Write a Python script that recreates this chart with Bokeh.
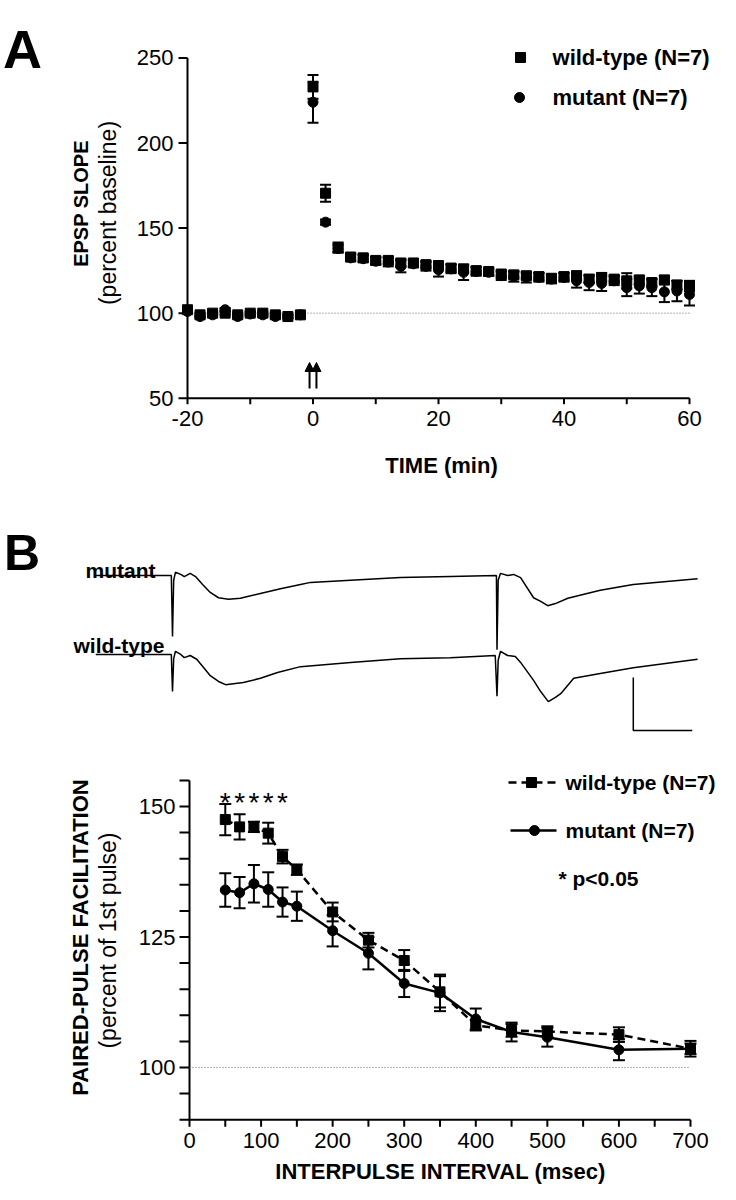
import math
from bokeh.plotting import figure
from bokeh.models import (ColumnDataSource, Whisker, TeeHead, Label, Arrow,
                          NormalHead, Range1d)
from bokeh.embed import file_html
from bokeh.resources import INLINE
from bokeh.core.properties import value

FONT = "Liberation Sans"

# ---------------- Panel A data (LTP time course) ----------------
time_min = [-20, -18, -16, -14, -12, -10, -8, -6, -4, -2,
            0, 2, 4, 6, 8, 10, 12, 14, 16, 18, 20, 22, 24, 26, 28, 30,
            32, 34, 36, 38, 40, 42, 44, 46, 48, 50, 52, 54, 56, 58, 60]
wt_slope = [102, 99, 100, 100, 99, 100, 100, 99, 98, 99,
            233, 170.5, 138.5, 133, 132.5, 131, 131, 129.5, 129.5, 128.5,
            128, 126.5, 126, 125, 124.5, 123, 122.5, 122, 121.5, 120.5,
            121.5, 122, 120, 121, 120, 119, 119.5, 118, 119.5, 116.5, 116]
wt_slope_err = [1, 1, 1, 1, 1, 1, 1, 1, 1, 1,
                7, 5, 3, 2, 2, 2, 2, 2, 2, 2,
                2, 2, 2, 2, 2, 2, 2, 2, 2, 2,
                2, 2.5, 2, 2.5, 2, 4.5, 2.5, 2, 2.5, 2.5, 3]
mut_slope = [101, 98, 99, 102, 98, 99.5, 99, 98, 98, 99,
             224, 153.5, 138, 132.5, 132, 130.5, 130, 127.5, 129, 127.5,
             125.5, 126, 124, 124.5, 124, 122, 121.5, 121, 121, 120,
             121, 119, 118, 117.5, 119, 115, 116, 115, 112.5, 113, 111]
mut_slope_err = [1, 1, 1, 1, 1, 1, 1, 1, 1, 1,
                 12, 1.5, 2, 2, 2, 2, 2.5, 3.5, 2, 2.5,
                 4, 2.5, 4.5, 2.5, 2, 2.5, 3, 3, 2.5, 2.5,
                 2.5, 4, 4.5, 4.5, 2.5, 5, 4.5, 5, 6, 6, 6.5]
a_xticks = [-20, 0, 20, 40, 60]
a_xminor = [-20, -10, 0, 10, 20, 30, 40, 50, 60]
a_yticks = [50, 100, 150, 200, 250]
tetanus_min = [-0.55, 0.55]

# ---------------- Panel B traces (ms, mV) ----------------
mut_trace_t = [-13.0, -0.2, 0.0, 0.2, 0.5, 1.4, 2.0, 3.0, 3.9, 5.1, 6.4, 7.8,
               9.5, 11.5, 14.9, 18.3, 21.7, 23.4, 30.2, 38.6, 47.1, 54.9,
               55.0, 55.2, 55.6, 56.8, 57.8, 59.0, 61.2, 62.4, 63.6, 64.9,
               67.0, 72.5, 78.1, 89.0]
mut_trace_v = [0.00, 0.00, -1.15, -0.09, 0.06, 0.02, -0.02, 0.04, -0.02, -0.17,
               -0.32, -0.42, -0.45, -0.43, -0.34, -0.25, -0.17, -0.13, -0.09,
               -0.04, -0.02, 0.00, -1.40, -0.09, 0.04, 0.00, 0.02, -0.04,
               -0.42, -0.49, -0.57, -0.53, -0.43, -0.28, -0.17, -0.06]
wt_trace_t = [-13.0, -0.2, 0.0, 0.2, 0.5, 1.4, 2.0, 3.0, 4.1, 5.3, 6.4, 7.8,
              9.0, 12.0, 14.9, 17.8, 21.7, 30.2, 38.6, 47.1, 54.7, 55.0,
              55.2, 55.6, 56.8, 58.1, 59.0, 61.2, 62.4, 63.7, 64.9, 65.8,
              68.0, 72.5, 78.1, 89.0]
wt_trace_v = [0.00, 0.00, -0.70, -0.08, 0.06, 0.00, -0.06, -0.02, -0.09, -0.25,
              -0.40, -0.51, -0.57, -0.53, -0.45, -0.34, -0.23, -0.15, -0.08,
              -0.06, -0.02, -0.79, -0.11, 0.06, -0.02, -0.04, -0.15, -0.49,
              -0.70, -0.89, -0.81, -0.74, -0.45, -0.36, -0.25, -0.09]
WT_TRACE_OFFSET = -1.49     # vertical display offset of wild-type trace (mV)
SCALE_MS, SCALE_MV = 10, 1  # scale bar
SCALE_T0, SCALE_V0 = 78.1, -2.925

# ---------------- Panel B PPF data ----------------
ipi_ms = [50, 70, 90, 110, 130, 150, 200, 250, 300, 350, 400, 450, 500, 600, 700]
ppf_wt = [147.5, 146.1, 146.1, 144.9, 140.4, 137.9, 129.8, 124.4, 120.5,
          114.5, 108.1, 107.1, 106.9, 106.3, 103.6]
ppf_wt_err = [3, 2.4, 1, 2, 1.3, 1, 1.8, 1.4, 2, 3, 1, 1.2, 1, 1.4, 1.5]
ppf_mut = [134.0, 133.5, 135.2, 134.1, 131.7, 130.9, 126.2, 121.9, 116.1,
           114.3, 109.3, 106.8, 105.8, 103.4, 103.6]
ppf_mut_err = [3.2, 3, 3.6, 3.3, 2.8, 2.8, 3, 3.1, 2.6, 3.5, 2, 1.8, 1.8, 2, 1]
significant_ipi = [50, 70, 90, 110, 130]
b_xticks = [0, 100, 200, 300, 400, 500, 600, 700]
b_xminor = [0, 50, 100, 150, 200, 250, 300, 350, 400, 450, 500, 550, 600, 650, 700]
b_yticks = [100, 125, 150]
b_yminor = [90, 95, 100, 105, 110, 115, 120, 125, 130, 135, 140, 145, 150, 155]

# ---------------- one canvas, three coordinate systems ----------------
p = figure(width=720, height=1184,
           x_range=Range1d(-49.801, 64.940), y_range=Range1d(-412.26, 283.80),
           output_backend="svg", toolbar_location=None, title=None,
           x_axis_type=None, y_axis_type=None, min_border=0)
p.extra_x_ranges = {"xb": Range1d(-264.08, 741.93), "xt": Range1d(-29.153, 92.881)}
p.extra_y_ranges = {"yb": Range1d(77.59, 304.41), "yt": Range1d(-11.491, 10.849)}
p.grid.visible = False
p.outline_line_color = None
p.background_fill_color = "white"
p.border_fill_color = "white"

A = dict(x_range_name="default", y_range_name="default")
B = dict(x_range_name="xb", y_range_name="yb")
T = dict(x_range_name="xt", y_range_name="yt")


def label(rng, x, y, text, size, bold=False, align="left", baseline="middle", angle=0.0):
    p.add_layout(Label(x=x, y=y, text=text, text_font=FONT,
                       text_font_size=f"{size}px",
                       text_font_style="bold" if bold else "normal",
                       text_align=align, text_baseline=baseline, angle=angle,
                       text_color="black", **rng))


def errbars(rng, x, y, err, size):
    src = ColumnDataSource(dict(x=x, lo=[a - b for a, b in zip(y, err)],
                                hi=[a + b for a, b in zip(y, err)]))
    p.add_layout(Whisker(source=src, base="x", lower="lo", upper="hi",
                         dimension="height", line_width=2, line_color="black",
                         upper_head=TeeHead(size=size, line_width=2, line_color="black"),
                         lower_head=TeeHead(size=size, line_width=2, line_color="black"),
                         **rng))


def axes(rng, x0, x1, y0, y1, xticks, xminor, yticks, yminor,
         xtick_len, ytick_len, xlab_y, ylab_x):
    # axis lines
    p.line([x0, x0], [y0, y1], line_color="black", line_width=2, **rng)
    p.line([x0, x1], [y0, y0], line_color="black", line_width=2, **rng)
    # tick marks
    p.ray(x=[x0] * len(yminor), y=yminor, length=ytick_len, length_units="screen",
          angle=math.pi, line_color="black", line_width=2, **rng)
    p.ray(x=xminor, y=[y0] * len(xminor), length=xtick_len, length_units="screen",
          angle=-math.pi / 2, line_color="black", line_width=2, **rng)
    # tick labels
    p.text(x=[ylab_x] * len(yticks), y=yticks, text=[str(v) for v in yticks],
           text_font=value(FONT), text_font_size="22px", text_align="right",
           text_baseline="middle", text_color="black", **rng)
    p.text(x=xticks, y=[xlab_y] * len(xticks), text=[str(v) for v in xticks],
           text_font=value(FONT), text_font_size="22px", text_align="center",
           text_baseline="middle", text_color="black", **rng)


# ======================= Panel A =======================
axes(A, -20, 60, 50, 250, a_xticks, a_xminor, a_yticks, a_yticks, 6, 9, 38.07, -22.23)
p.line([time_min[0], time_min[-1]], [100, 100], line_color="#666666",
       line_width=1, line_dash="1 2", **A)
errbars(A, time_min, mut_slope, mut_slope_err, 11)
errbars(A, time_min, wt_slope, wt_slope_err, 11)
p.scatter(time_min, mut_slope, marker="circle", size=10, color="black", **A)
p.scatter(time_min, wt_slope, marker="square", size=10, color="black", **A)
for tx in tetanus_min:
    p.add_layout(Arrow(x_start=tx, y_start=55.7, x_end=tx, y_end=71.0,
                       line_width=2, line_color="black",
                       end=NormalHead(size=9, fill_color="black", line_color="black"), **A))
# legend A
p.scatter([33.07], [250.29], marker="square", size=10, color="black", **A)
p.scatter([32.91], [226.78], marker="circle", size=10, color="black", **A)
label(A, 38.17, 250.29, "wild-type (N=7)", 22, bold=True)
label(A, 38.17, 226.78, "mutant (N=7)", 22, bold=True)
label(A, -46.29, 255.58, "A", 54, bold=True, align="center", baseline="alphabetic")
label(A, -37.05, 164.46, "EPSP SLOPE", 20, bold=True, align="center", angle=math.pi / 2)
label(A, -32.59, 158.88, "(percent baseline)", 23, align="center", angle=math.pi / 2)
label(A, 20.48, 10.44, "TIME (min)", 22, bold=True, align="center")

# ======================= Traces =======================
p.line(mut_trace_t, mut_trace_v, line_color="black", line_width=1.5, **T)
p.line(wt_trace_t, [v + WT_TRACE_OFFSET for v in wt_trace_v],
       line_color="black", line_width=1.5, **T)
p.line([SCALE_T0, SCALE_T0, SCALE_T0 + SCALE_MS],
       [SCALE_V0 + SCALE_MV, SCALE_V0, SCALE_V0], line_color="black", line_width=1.5, **T)
label(T, -25.51, 0.415, "B", 50, bold=True, align="center", baseline="alphabetic")
label(T, -14.75, 0.094, "mutant", 21, bold=True, baseline="alphabetic")
label(T, -16.78, -1.321, "wild-type", 21, bold=True, baseline="alphabetic")

# ======================= Panel B =======================
axes(B, 0, 700, 90, 155, b_xticks, b_xminor, b_yticks, b_yminor, 7, 10, 86.02, -19.56)
p.line([b_xticks[0], b_xticks[-1]], [100, 100], line_color="#666666",
       line_width=1, line_dash="1 2", **B)
errbars(B, ipi_ms, ppf_mut, ppf_mut_err, 12)
errbars(B, ipi_ms, ppf_wt, ppf_wt_err, 12)
p.line(ipi_ms, ppf_wt, line_color="black", line_width=2.5, line_dash="8 5", **B)
p.line(ipi_ms, ppf_mut, line_color="black", line_width=2.5, **B)
p.scatter(ipi_ms, ppf_mut, marker="circle", size=10, color="black", **B)
p.scatter(ipi_ms, ppf_wt, marker="square", size=10, color="black", **B)
p.text(significant_ipi, [150.69] * len(significant_ipi), text=["*"] * len(significant_ipi),
       text_font=value(FONT), text_font_size="28px", text_align="center",
       text_baseline="alphabetic", text_color="black", **B)
# legend B
p.line([445.7, 512.8], [154.6, 154.6], line_color="black", line_width=2.5, line_dash="8 5", **B)
p.scatter([477.9], [154.6], marker="square", size=10, color="black", **B)
p.line([448.5, 512.8], [145.4, 145.4], line_color="black", line_width=2.5, **B)
p.scatter([482.0], [145.4], marker="circle", size=10, color="black", **B)
label(B, 525.4, 154.6, "wild-type (N=7)", 21, bold=True)
label(B, 525.4, 145.4, "mutant (N=7)", 21, bold=True)
label(B, 515.6, 136.21, "* p<0.05", 21, bold=True)
label(B, -152.3, 124.90, "PAIRED-PULSE FACILITATION", 22, bold=True, align="center",
      angle=math.pi / 2)
label(B, -113.2, 124.33, "(percent of 1st pulse)", 23, align="center", angle=math.pi / 2)
label(B, 350.7, 80.08, "INTERPULSE INTERVAL (msec)", 22, bold=True, align="center")

open("out.html", "w").write(file_html(p, INLINE))
